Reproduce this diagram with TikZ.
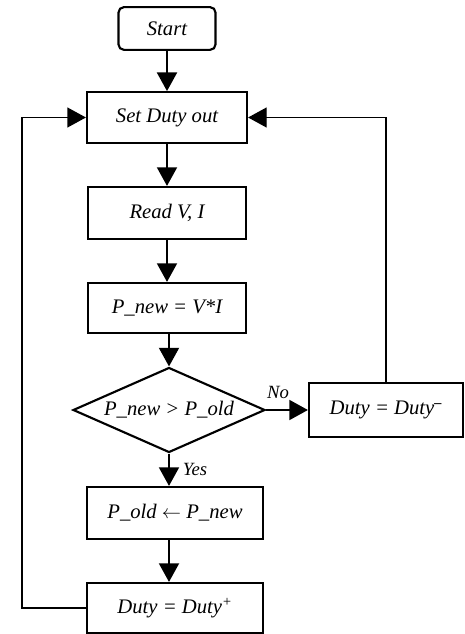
\documentclass[tikz,border=0pt]{standalone}
\usepackage{fontspec}
\setmainfont{Liberation Serif}
\usepackage{tikz}
\usetikzlibrary{shapes.geometric,arrows.meta}

\begin{document}
\begin{tikzpicture}[x=0.75pt,y=0.75pt,yscale=-1,xscale=1,
    stepbox/.style={draw, line width=1.6pt, inner sep=0pt, font=\fontsize{15.5}{18}\selectfont\itshape},
    flow/.style={line width=1.5pt, -{Triangle[length=14pt,width=15pt]}},
    loopline/.style={line width=1.1pt, -{Triangle[length=14pt,width=15pt]}}]
        \useasboundingbox (0,0) rectangle (464,634); %set diagram left start at 0, and has height of 634

        %Shape: Rounded Rect [id:start] 
        \node [stepbox, rounded corners=4pt, minimum width=72.75pt, minimum height=32pt] (start) at (167,28.5) {Start};
        %Shape: Rectangle [id:setduty] 
        \node [stepbox, minimum width=120pt, minimum height=38pt] (setduty) at (167,117.5) {Set Duty out};
        %Shape: Rectangle [id:readvi] 
        \node [stepbox, minimum width=119pt, minimum height=39pt] (readvi) at (167,213) {Read V, I};
        %Shape: Rectangle [id:pnew] 
        \node [stepbox, minimum width=119pt, minimum height=37.5pt] (pnew) at (167,308) {P\_new = V*I};
        %Shape: Diamond [id:cmp] 
        \node [stepbox, diamond, aspect=2.26, minimum width=144pt, minimum height=63.75pt] (cmp) at (169,410) {P\_new > P\_old};
        %Shape: Rectangle [id:dutydown] 
        \node [stepbox, minimum width=115.5pt, minimum height=40.5pt] (dutydown) at (386,410) {Duty = Duty\textsuperscript{\textbf{–}}};
        %Shape: Rectangle [id:pold] 
        \node [stepbox, minimum width=132pt, minimum height=39pt] (pold) at (175,513) {P\_old $\leftarrow$ P\_new};
        %Shape: Rectangle [id:dutyup] 
        \node [stepbox, minimum width=132pt, minimum height=37.5pt] (dutyup) at (175,608) {Duty = Duty\textsuperscript{+}};
        \coordinate (leftloop) at (22,300);

        %Straight Lines [id:flow] 
        \draw [flow] (start) -- (setduty);
        \draw [flow] (setduty) -- (readvi);
        \draw [flow] (readvi) -- (pnew);
        \draw [flow] (pnew.south -| cmp.north) -- (cmp.north);
        \draw [flow] (cmp.east) -- (dutydown.west);
        \draw [flow] (cmp.south) -- (cmp.south |- pold.north);
        \draw [flow] (cmp.south |- pold.south) -- (cmp.south |- dutyup.north);
        %Straight Lines [id:loops] 
        \draw [loopline] (dutyup.west) -| (leftloop) |- (setduty.west);
        \draw [loopline] (dutydown.north) |- (setduty.east);

        % Text Node
        \node [font=\fontsize{14}{16}\selectfont\itshape] (nolabel) at (278,392) {No};
        % Text Node
        \node [font=\fontsize{14}{16}\selectfont\itshape] (yeslabel) at (195,469) {Yes};
\end{tikzpicture}
\end{document}
